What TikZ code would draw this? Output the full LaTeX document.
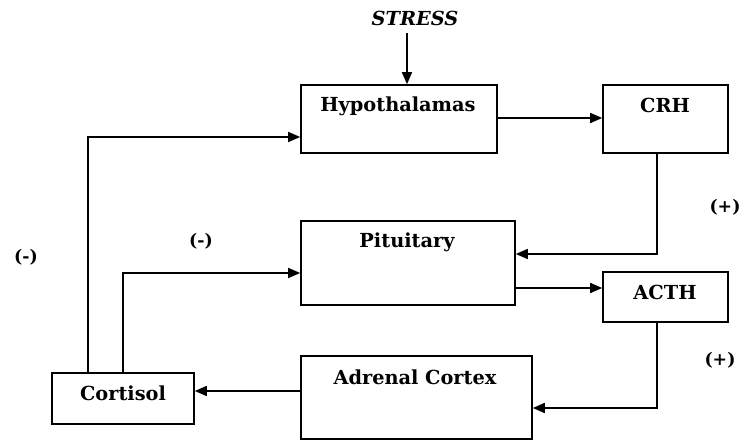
\documentclass[tikz,border=0pt]{standalone}
\usepackage{fontspec}
\setmainfont{DejaVu Serif}
\usetikzlibrary{arrows.meta}
\begin{document}
\begin{tikzpicture}[x=0.75pt,y=-0.75pt,
  box/.style={draw,line width=1.2pt,inner sep=0pt},
  lbl/.style={font=\bfseries\fontsize{14.5}{16}\selectfont,inner sep=0pt},
  sgn/.style={font=\bfseries\fontsize{13}{15}\selectfont,inner sep=0pt},
  arr/.style={line width=1.2pt,-{Triangle[length=9pt,width=7.5pt]}},
  ln/.style={line width=1.2pt}]
\useasboundingbox (0,0) rectangle (744,441);
% boxes
\node[box,minimum width=147pt,minimum height=51pt] (hyp) at (399,119) {};
\node[box,minimum width=93.75pt,minimum height=51pt] (crh) at (665.5,119) {};
\node[box,minimum width=160.5pt,minimum height=63pt] (pit) at (408,263) {};
\node[box,minimum width=93.75pt,minimum height=37.5pt] (acth) at (665.5,297) {};
\node[box,minimum width=173.25pt,minimum height=62.25pt] (adr) at (416.5,397.5) {};
\node[box,minimum width=106.5pt,minimum height=38.25pt] (cort) at (123,398.5) {};
% labels
\node[lbl,font=\bfseries\itshape\fontsize{14.5}{16}\selectfont] (stress) at (415,18) {STRESS};
\node[lbl] (thyp) at (398,106) {Hypothalamas};
\node[lbl] (tcrh) at (665,105) {CRH};
\node[lbl] (tpit) at (407,242) {Pituitary};
\node[lbl] (tacth) at (665,292) {ACTH};
\node[lbl] (tadr) at (415,377) {Adrenal Cortex};
\node[lbl] (tcort) at (123,393) {Cortisol};
\node[sgn] (m1) at (26,257) {(-)};
\node[sgn] (m2) at (201,241) {(-)};
\node[sgn] (p1) at (725,207) {(+)};
\node[sgn] (p2) at (720,360) {(+)};
% helper coordinates
\coordinate (sa) at (407,33);
\coordinate (x657) at (657,0);
\coordinate (x88) at (88,0);
\coordinate (x123) at (123,0);
\coordinate (y118) at (0,118);
\coordinate (y254) at (0,254);
\coordinate (y288) at (0,288);
\coordinate (y408) at (0,408);
\coordinate (y391) at (0,391);
\coordinate (y137) at (0,137);
\coordinate (y273) at (0,273);
% connectors
\draw[arr] (sa) -- (sa |- hyp.north);
\draw[arr] (hyp.east |- y118) -- (crh.west |- y118);
\draw[arr] (crh.south -| x657) |- (pit.east |- y254);
\draw[arr] (pit.east |- y288) -- (acth.west |- y288);
\draw[arr] (acth.south -| x657) |- (adr.east |- y408);
\draw[arr] (adr.west |- y391) -- (cort.east |- y391);
\draw[arr] (cort.north -| x88) |- (hyp.west |- y137);
\draw[arr] (cort.north -| x123) |- (pit.west |- y273);
\end{tikzpicture}
\end{document}
